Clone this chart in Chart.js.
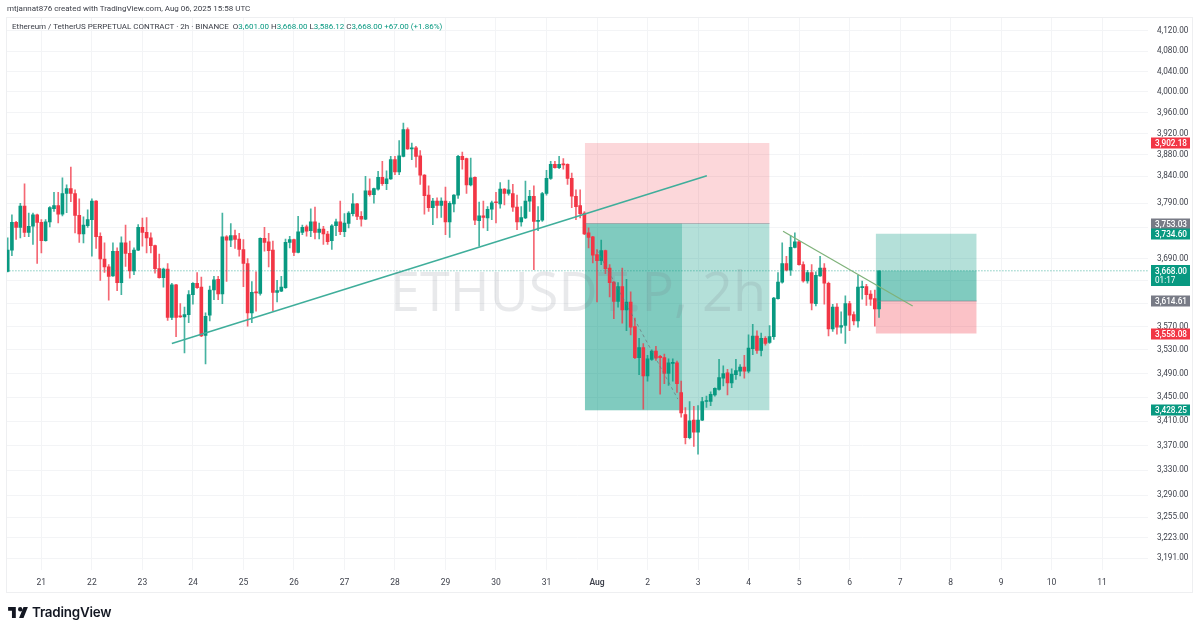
<!DOCTYPE html>
<html>
<head>
<meta charset="utf-8">
<title>ETHUSDT.P 2h</title>
<script src="https://cdn.jsdelivr.net/npm/chart.js@4"></script>
<style>
    body { margin: 0; background: #fff; width: 1200px; height: 632px; overflow: hidden; position: relative; font-family: Roboto, sans-serif; }
    canvas { position: absolute; left: 0; top: 0; }
    .frame { position: absolute; left: 6px; top: 17px; width: 1187px; height: 576px; border: 1px solid #eeeff1; box-sizing: border-box; }
    .credit { position: absolute; left: 7px; top: 3px; font-size: 8px; line-height: 12px; color: #3a3d46; white-space: pre; }
    .legend { position: absolute; left: 12px; top: 21px; font-size: 8px; line-height: 12px; color: #3a3d46; white-space: pre; }
    .legend b { font-weight: 400; color: #089981; }
    .brand { position: absolute; left: 8px; top: 604px; display: flex; align-items: center; font-family: Inter, sans-serif; font-size: 13.4px; font-weight: 600; color: #131722; letter-spacing: -0.2px; }
    .brand svg { margin-right: 4px; }
</style>
</head>
<body>
<canvas id="chart" width="1200" height="632"></canvas>
<div class="frame"></div>
<div class="credit">mtjannat876 created with TradingView.com, Aug 06, 2025 15:58 UTC</div>
<div class="legend">Ethereum / TetherUS PERPETUAL CONTRACT · 2h · BINANCE  O<b>3,601.00</b> H<b>3,668.00</b> L<b>3,586.12</b> C<b>3,668.00</b> <b>+67.00 (+1.86%)</b></div>
<div class="brand">
    <svg width="20" height="11" viewBox="0 0 36 20"><path fill="#131722" d="M0 0h14v20H7V7H0zM22 0a4 4 0 1 1 0 8 4 4 0 0 1 0-8zM28 0h8l-8 20h-8z"/></svg>
    TradingView
</div>
<script>
// 2h candles
const opens = [
    3667,3705,3755,3746,3785,3737,3748,3769,3755,3722,
    3756,3780,3786,3770,3808,3817,3808,3768,3734,3749,
    3760,3794,3730,3689,3675,3659,3703,3647,3718,3699,
    3668,3705,3746,3737,3727,3713,3672,3656,3671,3586,
    3643,3588,3587,3591,3626,3646,3639,3555,3590,3634,
    3653,3627,3729,3723,3731,3725,3706,3681,3594,3630,
    3628,3726,3720,3705,3630,3632,3638,3719,3724,3701,
    3737,3747,3740,3756,3737,3743,3734,3722,3749,3756,
    3738,3753,3771,3789,3766,3761,3813,3806,3816,3838,
    3826,3835,3871,3848,3877,3928,3891,3893,3878,3842,
    3805,3782,3794,3786,3794,3756,3789,3805,3877,3873,
    3824,3838,3758,3767,3763,3779,3792,3789,3816,3808,
    3808,3783,3756,3763,3794,3803,3757,3759,3808,3836,
    3862,3856,3863,3862,3836,3803,3786,3772,3736,3729,
    3697,3686,3704,3673,3648,3614,3640,3599,3613,3570,
    3517,3534,3486,3514,3528,3519,3517,3490,3507,3508,
    3458,3421,3383,3412,3392,3412,3443,3443,3454,3463,
    3482,3491,3474,3488,3494,3501,3494,3532,3554,3529,
    3550,3543,3553,3619,3648,3681,3669,3710,3720,3679,
    3650,3665,3610,3659,3673,3646,3566,3604,3569,3572,
    3610,3591,3580,3638,3640,3627,3619,3601
];
const closes = [
    3705,3755,3746,3785,3737,3748,3769,3755,3722,3756,
    3782,3786,3770,3808,3817,3808,3768,3734,3750,3760,
    3794,3729,3689,3675,3658,3703,3647,3718,3699,3668,
    3705,3746,3737,3727,3713,3672,3656,3671,3586,3643,
    3586,3587,3591,3626,3646,3638,3554,3588,3634,3652,
    3627,3729,3723,3731,3724,3706,3681,3594,3630,3629,
    3726,3719,3704,3630,3633,3639,3719,3724,3701,3738,
    3746,3739,3756,3737,3743,3734,3720,3749,3756,3738,
    3754,3772,3789,3766,3761,3813,3806,3817,3838,3826,
    3835,3871,3848,3878,3928,3891,3893,3877,3842,3804,
    3782,3794,3786,3794,3756,3790,3805,3877,3871,3824,
    3837,3759,3767,3764,3779,3791,3791,3816,3808,3815,
    3783,3756,3764,3794,3803,3757,3759,3808,3836,3862,
    3856,3862,3861,3836,3803,3784,3771,3734,3728,3696,
    3686,3704,3672,3647,3614,3640,3599,3613,3569,3517,
    3534,3486,3515,3528,3516,3517,3490,3508,3509,3473,
    3424,3383,3411,3392,3412,3443,3444,3455,3465,3483,
    3490,3474,3489,3495,3501,3494,3533,3554,3529,3550,
    3541,3553,3620,3648,3681,3669,3710,3720,3679,3650,
    3665,3611,3660,3673,3646,3566,3604,3569,3572,3610,
    3590,3580,3639,3640,3626,3618,3601,3668
];
const highs = [
    3727,3769,3757,3790,3826,3772,3772,3770,3760,3760,
    3784,3810,3810,3837,3824,3857,3815,3798,3765,3778,
    3798,3795,3736,3718,3679,3718,3709,3729,3750,3721,
    3709,3751,3763,3764,3736,3714,3698,3673,3681,3646,
    3644,3610,3604,3633,3647,3665,3657,3594,3641,3658,
    3658,3772,3731,3753,3741,3735,3724,3690,3649,3666,
    3727,3746,3735,3721,3651,3658,3725,3730,3725,3766,
    3750,3750,3780,3783,3754,3748,3739,3751,3761,3794,
    3771,3775,3808,3790,3775,3840,3835,3818,3849,3868,
    3850,3877,3877,3907,3940,3931,3902,3896,3888,3843,
    3822,3799,3800,3800,3820,3793,3806,3879,3885,3874,
    3874,3839,3792,3794,3784,3794,3810,3828,3817,3833,
    3825,3805,3784,3831,3814,3822,3784,3810,3851,3868,
    3868,3877,3873,3863,3846,3815,3815,3775,3745,3730,
    3706,3723,3705,3679,3649,3647,3673,3653,3631,3585,
    3550,3541,3521,3530,3536,3521,3523,3515,3515,3511,
    3477,3433,3443,3435,3436,3450,3452,3459,3466,3514,
    3503,3497,3498,3514,3505,3521,3556,3574,3563,3559,
    3553,3572,3621,3665,3718,3694,3731,3736,3722,3684,
    3669,3679,3666,3694,3681,3648,3609,3610,3596,3624,
    3614,3596,3660,3650,3644,3633,3634,3668
];
const lows = [
    3666,3695,3724,3727,3729,3729,3715,3681,3700,3721,
    3747,3775,3754,3767,3773,3793,3736,3719,3718,3746,
    3694,3708,3651,3665,3616,3658,3633,3626,3676,3655,
    3661,3704,3712,3700,3700,3664,3655,3639,3581,3582,
    3553,3586,3525,3577,3609,3637,3553,3506,3580,3617,
    3617,3610,3649,3711,3708,3694,3640,3571,3577,3597,
    3625,3703,3675,3598,3613,3631,3637,3709,3695,3700,
    3733,3730,3729,3725,3725,3715,3715,3706,3731,3733,
    3729,3745,3767,3760,3748,3760,3803,3790,3814,3823,
    3815,3834,3843,3843,3876,3890,3871,3857,3825,3770,
    3775,3751,3763,3764,3733,3728,3774,3799,3853,3808,
    3822,3751,3712,3745,3740,3760,3754,3781,3787,3805,
    3775,3742,3748,3762,3775,3670,3740,3757,3805,3834,
    3855,3854,3853,3825,3782,3760,3763,3733,3709,3682,
    3613,3679,3663,3622,3584,3604,3576,3563,3556,3515,
    3488,3430,3477,3512,3512,3455,3473,3470,3477,3458,
    3417,3373,3381,3369,3356,3411,3433,3436,3452,3462,
    3469,3454,3466,3480,3486,3482,3491,3522,3524,3520,
    3538,3541,3548,3618,3646,3668,3660,3709,3678,3648,
    3646,3599,3606,3658,3609,3554,3562,3557,3559,3541,
    3563,3573,3569,3618,3607,3607,3571,3586.12
];

const dayLabels = ['21','22','23','24','25','26','27','28','29','30','31','Aug','2','3','4','5','6','7','8','9','10','11'];
const dayIndex = [8,20,32,44,56,68,80,92,104,116,128,140,152,164,176,188,200,212,224,236,248,260];
const priceTicks = [4120,4080,4040,4000,3960,3920,3880,3840,3790,3690,3570,3530,3490,3450,3410,3370,3330,3290,3255,3223,3191];
const hiddenTicks = [3745,3650,3610]; // grid lines whose labels sit under the price tags

const lastPrice = 3668;
const tagPrices = [3902.18,3753.03,3734.60,3668.00,3614.61,3558.08,3428.25];
const tagColors = ['#f23645','#787b86','#089981','#089981','#787b86','#f23645','#089981'];
const tagNotes = ['','','','01:17','','',''];

// trend lines, [index, price]
const trendUp = [[39,3541],[166.1,3841]];
const trendDown = [[184.2,3739],[215,3606]];
const trendDashed = [[140,3705],[159.2,3447]];

const shortBox = { from: 137.1, split: 160.2, to: 181, stop: 3902.18, entry: 3753.03, target: 3428.25 };
const longBox = { from: 206.2, to: 230.2, target: 3734.60, last: 3668, entry: 3614.61, stop: 3558.08 };

const GREEN = '#089981';
const RED = '#f23645';
const fmt = v => v.toLocaleString('en-US', { minimumFractionDigits: 2, maximumFractionDigits: 2 });

const candleIdx = opens.map((_, i) => i);
const upColor = i => closes[i] >= opens[i];

function zone(x0, x1, top, bottom, color) {
    return {
        type: 'line',
        data: [{ x: x0, y: top }, { x: x1, y: top }],
        fill: { value: bottom },
        backgroundColor: color,
        borderWidth: 0,
        pointRadius: 0,
        order: 5
    };
}

function segment(points, color, width, dash) {
    return {
        type: 'line',
        data: points.map(p => ({ x: p[0], y: p[1] })),
        borderColor: color,
        borderWidth: width,
        borderDash: dash || [],
        pointRadius: 0,
        fill: false,
        order: 1
    };
}

const watermark = {
    id: 'watermark',
    afterDatasetsDraw(chart) {
        const ctx = chart.ctx;
        ctx.save();
        ctx.font = '54px "Open Sans", sans-serif';
        ctx.fillStyle = 'rgba(120,123,134,0.17)';
        ctx.textAlign = 'center';
        ctx.textBaseline = 'middle';
        ctx.fillText('ETHUSDT.P, 2h', 578, 296);
        ctx.restore();
    }
};

const priceTags = {
    id: 'priceTags',
    afterDraw(chart) {
        const ctx = chart.ctx;
        const y = chart.scales.y;
        ctx.save();
        ctx.textBaseline = 'middle';
        ctx.textAlign = 'left';
        tagPrices.forEach((p, i) => {
            const py = Math.round(y.getPixelForValue(p));
            const note = tagNotes[i];
            ctx.fillStyle = tagColors[i];
            if (note) {
                ctx.fillRect(1151, py - 6, 39, 21);
            } else {
                ctx.fillRect(1151, py - 5.5, 39, 11);
            }
            ctx.fillStyle = '#fff';
            ctx.font = '500 8.2px Roboto, sans-serif';
            ctx.fillText(fmt(p), 1155, py + 0.5);
            if (note) {
                ctx.font = '8.2px Roboto, sans-serif';
                ctx.fillText(note, 1155, py + 10);
            }
        });
        ctx.restore();
    }
};

new Chart(document.getElementById('chart'), {
    type: 'bar',
    data: {
        datasets: [
            // position zones
            zone(shortBox.from, shortBox.to, shortBox.stop, shortBox.entry, 'rgba(242,54,69,0.2)'),
            zone(shortBox.from, shortBox.to, shortBox.entry, shortBox.target, 'rgba(8,153,129,0.3)'),
            zone(shortBox.from, shortBox.split, shortBox.entry, shortBox.target, 'rgba(8,153,129,0.3)'),
            zone(longBox.from, longBox.to, longBox.target, longBox.entry, 'rgba(8,153,129,0.3)'),
            zone(longBox.from, longBox.to, longBox.last, longBox.entry, 'rgba(8,153,129,0.3)'),
            zone(longBox.from, longBox.to, longBox.entry, longBox.stop, 'rgba(242,54,69,0.3)'),
            // wicks then bodies
            {
                data: candleIdx.map(i => ({ x: i, y: [lows[i], highs[i]] })),
                backgroundColor: candleIdx.map(i => upColor(i) ? 'rgba(8,153,129,0.75)' : 'rgba(242,54,69,0.75)'),
                barThickness: 1,
                grouped: false,
                order: 4
            },
            {
                data: candleIdx.map(i => ({ x: i, y: [opens[i], closes[i]] })),
                backgroundColor: candleIdx.map(i => upColor(i) ? GREEN : RED),
                barThickness: 3,
                minBarLength: 1,
                grouped: false,
                order: 3
            },
            segment(trendUp, '#3fae9b', 1.5),
            segment(trendDown, '#7fb27a', 1.2),
            segment(trendDashed, 'rgba(110,115,120,0.7)', 1, [3, 3]),
            segment([[shortBox.from, shortBox.entry], [shortBox.to, shortBox.entry]], 'rgba(120,123,134,0.45)', 1),
            segment([[longBox.from, longBox.entry], [longBox.to, longBox.entry]], 'rgba(120,123,134,0.55)', 1),
            segment([[-0.3, lastPrice], [270.9, lastPrice]], 'rgba(8,153,129,0.75)', 1, [1, 2])
        ]
    },
    options: {
        responsive: false,
        animation: false,
        events: [],
        layout: { padding: { left: 6.5, top: 17, right: 0, bottom: 0 } },
        plugins: { legend: { display: false }, tooltip: { enabled: false } },
        scales: {
            x: {
                type: 'linear',
                min: -0.285,
                max: 270.9,
                offset: false,
                grid: { color: '#f3f4f6', offset: false, drawTicks: false },
                border: { display: false },
                afterBuildTicks: scale => { scale.ticks = dayIndex.map(v => ({ value: v })); },
                afterFit: scale => { scale.height = 62; },
                ticks: {
                    autoSkip: false,
                    maxRotation: 0,
                    padding: 8,
                    color: '#3f424c',
                    font: ctx => ({ size: 8.5, family: 'Roboto, sans-serif', weight: dayLabels[ctx.index] === 'Aug' ? '600' : '400' }),
                    callback: (v, i) => dayLabels[i]
                }
            },
            y: {
                type: 'logarithmic',
                position: 'right',
                min: 3173,
                max: 4148,
                grid: { color: '#f3f4f6', drawTicks: false },
                border: { display: false },
                afterBuildTicks: scale => { scale.ticks = priceTicks.concat(hiddenTicks).map(v => ({ value: v })); },
                afterFit: scale => { scale.width = 52; },
                ticks: {
                    autoSkip: false,
                    padding: 9,
                    color: '#3f424c',
                    font: { size: 8.2, family: 'Roboto, sans-serif' },
                    callback: v => hiddenTicks.includes(v) ? '' : fmt(v)
                }
            }
        }
    },
    plugins: [watermark, priceTags]
});
</script>
</body>
</html>
